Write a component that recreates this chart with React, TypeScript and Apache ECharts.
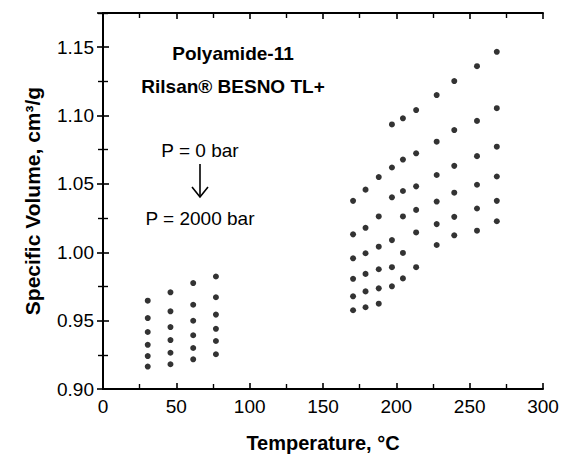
import React, { useEffect, useRef } from "react";
import * as echarts from "echarts";

// Temperatures (°C) of the measured isotherms
const temperatures = [30.5, 46, 61.5, 77, 170.5, 179, 188, 197, 204.5, 213.5, 227.5, 239.5, 255, 268.5];

// Specific volume (cm3/g) per pressure level, aligned with temperatures
const p0 = [0.9646, 0.9707, 0.9775, 0.9823, 1.0376, 1.0458, 1.055, 1.0935, 1.098, 1.104, 1.115, 1.1252, 1.1361, 1.1466];
const p400 = [0.9519, 0.9568, 0.9616, 0.9671, 1.0131, 1.0179, 1.0262, 1.062, 1.0678, 1.0724, 1.0809, 1.0894, 1.0961, 1.1054];
const p800 = [0.9417, 0.9453, 0.9499, 0.9544, 0.9956, 0.9993, 1.0041, 1.0402, 1.0448, 1.0482, 1.0565, 1.0632, 1.0703, 1.0772];
const p1200 = [0.9323, 0.9358, 0.9393, 0.944, 0.9806, 0.9842, 0.9876, 1.0089, 1.0262, 1.031, 1.0371, 1.0436, 1.0494, 1.0554];
const p1600 = [0.9241, 0.9265, 0.93, 0.9351, 0.9678, 0.9714, 0.9736, 0.9891, 0.9995, 1.0145, 1.0206, 1.0259, 1.032, 1.0376];
const p2000 = [0.9164, 0.9181, 0.9217, 0.9254, 0.9576, 0.9598, 0.9624, 0.9751, 0.9809, 0.9891, 1.0053, 1.0124, 1.0158, 1.0227];

const pressureNames = ["0 bar", "400 bar", "800 bar", "1200 bar", "1600 bar", "2000 bar"];
const pressureSeries = [p0, p400, p800, p1200, p1600, p2000];

const xTicks = [0, 50, 100, 150, 200, 250, 300];
const yTicks = [0.9, 0.95, 1.0, 1.05, 1.1, 1.15];

const FONT = "'Liberation Sans', Arial, Helvetica, sans-serif";

export default function App() {
  const ref = useRef<HTMLDivElement>(null);

  useEffect(() => {
    if (!ref.current) return;
    const chart = echarts.init(ref.current, undefined, { renderer: "svg" });

    const axisLine = { show: true, lineStyle: { color: "#000", width: 2 } };
    const tick = { show: true, inside: true, length: 6, lineStyle: { color: "#000", width: 1.6 } };
    const minor = { show: true, splitNumber: 2, length: 5, lineStyle: { color: "#000", width: 1.4 } };

    const yFmt = (v: number) => {
      const hit = yTicks.find((t) => Math.abs(t - v) < 1e-6);
      return hit !== undefined ? hit.toFixed(2) : "";
    };
    const xFmt = (v: number) => (xTicks.indexOf(Math.round(v)) >= 0 && Math.abs(v - Math.round(v)) < 1e-6 ? String(Math.round(v)) : "");

    const arrowX = 200;

    chart.setOption({
      animation: false,
      backgroundColor: "#fff",
      grid: { left: 103, top: 13, right: 21, bottom: 68 },
      xAxis: [
        {
          type: "value",
          min: 0,
          max: 300,
          interval: 50,
          position: "bottom",
          axisLine,
          axisTick: tick,
          minorTick: minor,
          splitLine: { show: false },
          axisLabel: { formatter: xFmt, color: "#000", fontSize: 19, fontFamily: FONT, margin: 8 },
          name: "Temperature, °C",
          nameLocation: "middle",
          nameGap: 44,
          nameTextStyle: { color: "#000", fontSize: 20, fontWeight: "bold", fontFamily: FONT },
        },
        {
          type: "value",
          min: 0,
          max: 300,
          interval: 50,
          position: "top",
          axisLine,
          axisTick: tick,
          minorTick: minor,
          splitLine: { show: false },
          axisLabel: { show: false },
        },
      ],
      yAxis: [
        {
          type: "value",
          min: 0.9,
          max: 1.175,
          interval: 0.05,
          position: "left",
          axisLine,
          axisTick: tick,
          minorTick: minor,
          splitLine: { show: false },
          axisLabel: { formatter: yFmt, color: "#000", fontSize: 19, fontFamily: FONT, margin: 9 },
          name: "Specific Volume, cm³/g",
          nameLocation: "middle",
          nameGap: 60,
          nameRotate: 90,
          nameTextStyle: { color: "#000", fontSize: 21, fontWeight: "bold", fontFamily: FONT },
        },
        {
          type: "value",
          min: 0.9,
          max: 1.175,
          interval: 0.05,
          position: "right",
          axisLine,
          axisTick: tick,
          minorTick: minor,
          splitLine: { show: false },
          axisLabel: { show: false },
        },
      ],
      series: pressureSeries.map((vals, i) => ({
        name: pressureNames[i],
        type: "scatter",
        xAxisIndex: 0,
        yAxisIndex: 0,
        symbol: "circle",
        symbolSize: 6,
        itemStyle: { color: "#000" },
        data: temperatures.map((t, j) => [t, vals[j]]),
      })),
      graphic: [
        {
          type: "text",
          x: 233,
          y: 53,
          style: {
            text: "Polyamide-11",
            fill: "#000",
            font: `bold 19px ${FONT}`,
            align: "center",
            verticalAlign: "middle",
          },
        },
        {
          type: "text",
          x: 233,
          y: 86,
          style: {
            text: "Rilsan® BESNO TL+",
            fill: "#000",
            font: `bold 19px ${FONT}`,
            align: "center",
            verticalAlign: "middle",
          },
        },
        {
          type: "text",
          x: arrowX,
          y: 150,
          style: {
            text: "P = 0 bar",
            fill: "#000",
            font: `19px ${FONT}`,
            align: "center",
            verticalAlign: "middle",
          },
        },
        {
          type: "line",
          shape: { x1: arrowX, y1: 164, x2: arrowX, y2: 196 },
          style: { stroke: "#000", lineWidth: 1.6 },
        },
        {
          type: "polyline",
          shape: { points: [[arrowX - 8, 187], [arrowX, 197], [arrowX + 8, 187]] },
          style: { stroke: "#000", lineWidth: 1.6, fill: "none" },
        },
        {
          type: "text",
          x: arrowX,
          y: 218,
          style: {
            text: "P = 2000 bar",
            fill: "#000",
            font: `19px ${FONT}`,
            align: "center",
            verticalAlign: "middle",
          },
        },
      ],
    });

    return () => chart.dispose();
  }, []);

  return (
    <div
      ref={ref}
      style={{ position: "absolute", left: 0, top: 0, width: 564, height: 458, background: "#fff" }}
    />
  );
}
